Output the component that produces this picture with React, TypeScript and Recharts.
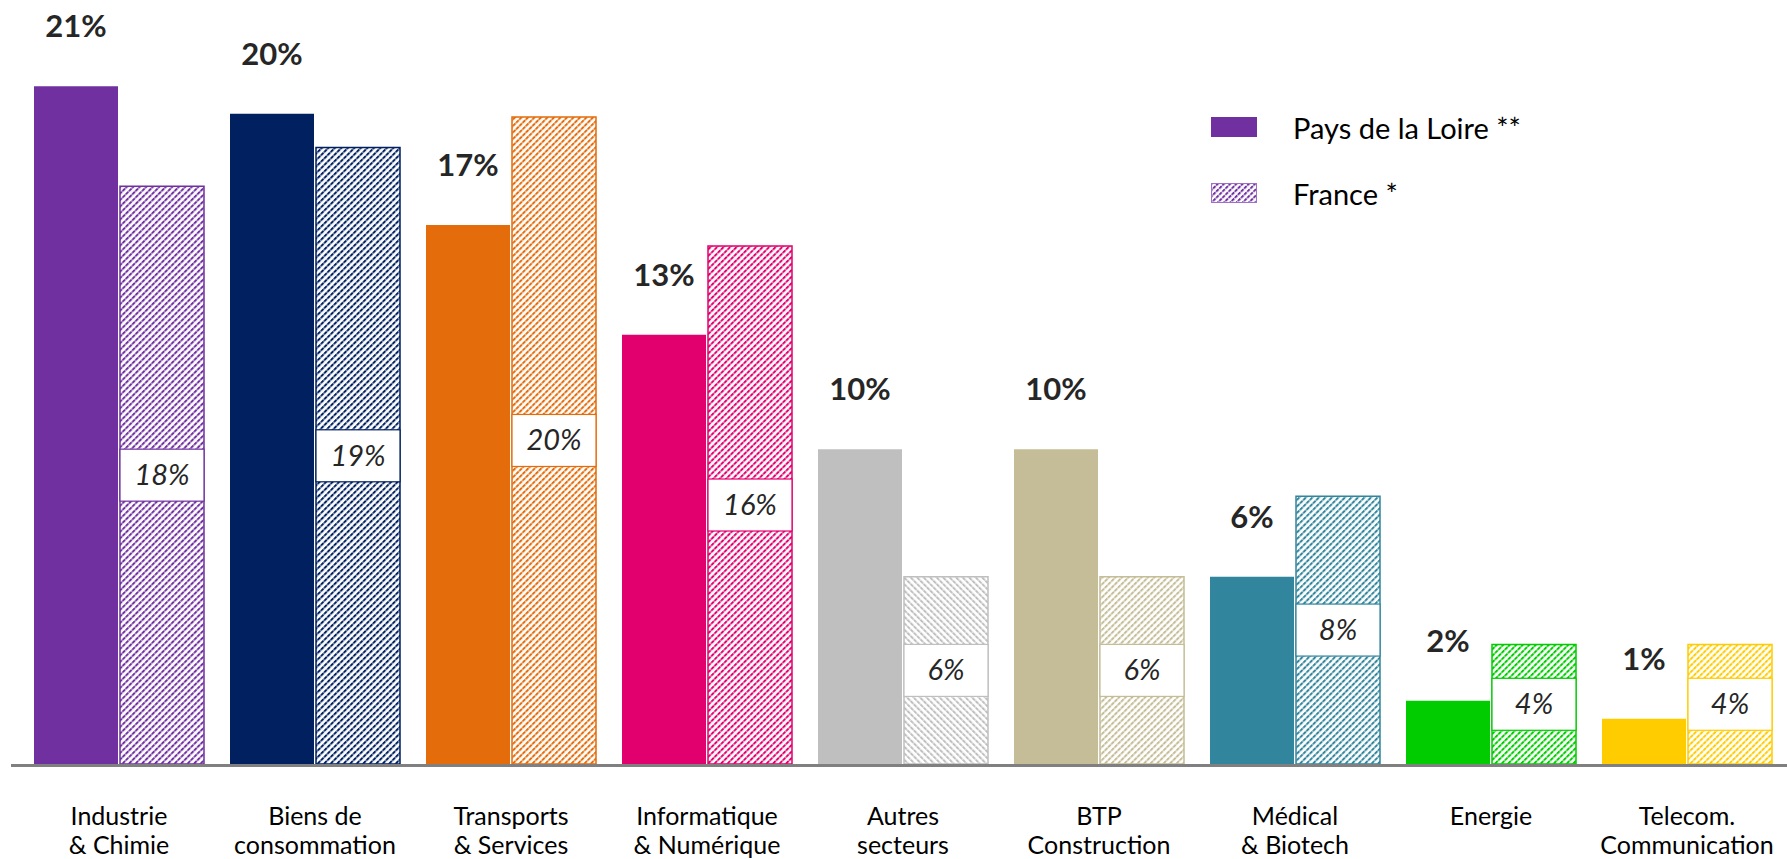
import { Bar, BarChart, Cell, LabelList, Legend, XAxis, YAxis } from 'recharts';

const categories = [
  'Industrie\n& Chimie',
  'Biens de\nconsommation',
  'Transports\n& Services',
  'Informatique\n& Numérique',
  'Autres\nsecteurs',
  'BTP\nConstruction',
  'Médical\n& Biotech',
  'Energie',
  'Telecom.\nCommunication',
];

const paysValues = [21, 20.15, 16.7, 13.3, 9.75, 9.75, 5.8, 1.96, 1.4];
const franceValues = [17.9, 19.1, 20.05, 16.05, 5.8, 5.8, 8.3, 3.7, 3.7];

const COLORS = [
  '#7030A0', // purple
  '#002060', // navy
  '#E46C0A', // orange
  '#E2006E', // pink
  '#BFBFBF', // grey
  '#C4BD97', // beige
  '#31859C', // teal
  '#00CC00', // green
  '#FFCC00', // yellow
];

const FONT = 'Lato, "Open Sans", sans-serif';

const data = categories.map((name, i) => ({
  name,
  pays: paysValues[i],
  france: franceValues[i],
}));

const CategoryTick = (props: any) => {
  const { x, y, payload } = props;
  const lines = String(payload.value).split('\n');
  return (
    <g>
      {lines.map((line, i) => (
        <text
          key={i}
          x={x}
          y={y + 61 + i * 29}
          textAnchor='middle'
          fontSize={25}
          fontFamily={FONT}
          fill='#000'
        >
          {line}
        </text>
      ))}
    </g>
  );
};

const PaysLabel = (props: any) => {
  const x = Number(props.x);
  const y = Number(props.y);
  const width = Number(props.width);
  return (
    <text
      x={x + width / 2}
      y={y - 49}
      textAnchor='middle'
      fontSize={31}
      fontWeight={700}
      fontFamily={FONT}
      fill='#262626'
    >
      {Math.round(Number(props.value))}%
    </text>
  );
};

const FranceLabel = (props: any) => {
  const x = Number(props.x);
  const y = Number(props.y);
  const width = Number(props.width);
  const height = Number(props.height);
  const color = COLORS[props.index % COLORS.length];
  const cy = y + height / 2;
  return (
    <g>
      <rect x={x} y={cy - 26} width={width} height={52} fill='#fff' stroke={color} strokeWidth={1.2} />
      <text
        x={x + width / 2}
        y={cy + 10}
        textAnchor='middle'
        fontSize={29}
        fontStyle='italic'
        fontFamily={FONT}
        fill='#262626'
      >
        {Math.round(Number(props.value))}%
      </text>
    </g>
  );
};

const renderLegend = () => (
  <div style={{ fontFamily: FONT, fontSize: 29, color: '#000' }}>
    <div style={{ display: 'flex', alignItems: 'center', height: 44 }}>
      <div style={{ width: 46, height: 20, background: COLORS[0], marginRight: 36 }} />
      <span>Pays de la Loire **</span>
    </div>
    <div style={{ display: 'flex', alignItems: 'center', height: 44, marginTop: 22 }}>
      <svg width={46} height={20} style={{ marginRight: 36 }}>
        <defs>
          <pattern
            id='legend-hatch'
            patternUnits='userSpaceOnUse'
            width={4.4}
            height={4.4}
            patternTransform='rotate(45)'
          >
            <rect width={4.4} height={4.4} fill='#fff' />
            <line x1={1} y1={0} x2={1} y2={4.4} stroke={COLORS[0]} strokeWidth={2} strokeDasharray='2.4 0.8' />
          </pattern>
        </defs>
        <rect x={0.5} y={0.5} width={45} height={19} fill='url(#legend-hatch)' stroke='#A070C8' strokeWidth={1} />
      </svg>
      <span>France *</span>
    </div>
  </div>
);

export default function App() {
  return (
    <div style={{ width: 1787, height: 859 }}>
      <style>{'body{margin:0}'}</style>
      <BarChart
        width={1787}
        height={859}
        data={data}
        margin={{ top: 54, right: 0, bottom: 0, left: 11 }}
        barSize={84}
        barGap={2}
      >
        <defs>
          {COLORS.map((color, i) => (
            <pattern
              key={`hatch-${i}`}
              id={`hatch-${i}`}
              patternUnits='userSpaceOnUse'
              width={4.6}
              height={4.6}
              patternTransform={`rotate(${i === 4 ? -45 : 45})`}
            >
              <rect width={4.6} height={4.6} fill='#fff' />
              <line x1={1} y1={0} x2={1} y2={4.6} stroke={color} strokeWidth={2} strokeDasharray='2.5 0.8' />
            </pattern>
          ))}
        </defs>
        <XAxis
          dataKey='name'
          height={95}
          interval={0}
          tickLine={false}
          tickSize={0}
          tickMargin={0}
          padding={{ left: 10, right: 2 }}
          axisLine={{ stroke: '#808080', strokeWidth: 3, transform: 'translate(0 1.5)' }}
          tick={<CategoryTick />}
        />
        <YAxis hide domain={[0, 22]} />
        <Legend
          layout='vertical'
          align='center'
          verticalAlign='middle'
          content={renderLegend}
          wrapperStyle={{ top: 105, left: 1211, width: 440 }}
        />
        <Bar dataKey='pays' isAnimationActive={false}>
          {data.map((_, i) => (
            <Cell key={`pays-${i}`} fill={COLORS[i]} />
          ))}
          <LabelList dataKey='pays' content={<PaysLabel />} />
        </Bar>
        <Bar dataKey='france' isAnimationActive={false}>
          {data.map((_, i) => (
            <Cell key={`france-${i}`} fill={`url(#hatch-${i})`} stroke={COLORS[i]} strokeWidth={1.5} />
          ))}
          <LabelList dataKey='france' content={<FranceLabel />} />
        </Bar>
      </BarChart>
    </div>
  );
}
